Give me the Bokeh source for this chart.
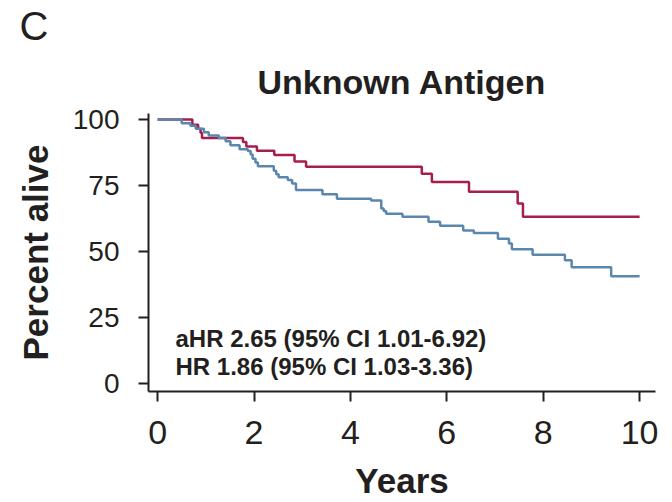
from bokeh.plotting import figure
from bokeh.models import Label, FixedTicker, Title
from bokeh.embed import file_html
from bokeh.resources import INLINE

# Kaplan-Meier curves (years, percent alive)
red_years = [0, 0.72, 0.84, 0.89, 0.92, 1.77, 1.84, 2.06, 2.42, 2.84, 3.08,
             5.48, 5.69, 6.46, 7.47, 7.58, 10.0]
red_alive = [100, 98.0, 96.5, 95.0, 93.0, 91.5, 89.8, 88.2, 86.6, 84.1, 82.1,
             79.5, 76.4, 72.7, 68.2, 63.2, 63.2]

blue_years = [0, 0.50, 0.68, 0.79, 0.96, 1.06, 1.27, 1.41, 1.51, 1.70, 1.87,
              1.93, 1.97, 2.03, 2.08, 2.41, 2.46, 2.51, 2.70, 2.79, 2.87, 3.42,
              3.72, 4.43, 4.64, 4.69, 4.74, 5.08, 5.62, 5.86, 6.34, 6.56, 7.06,
              7.29, 7.35, 7.78, 8.45, 8.59, 9.41, 10.0]
blue_alive = [100, 98.6, 97.7, 96.5, 95.2, 94.0, 93.0, 91.8, 90.3, 88.8, 88.1,
              86.8, 85.2, 83.7, 82.3, 80.6, 79.3, 78.2, 77.1, 75.8, 73.3, 71.7,
              70.0, 69.3, 66.3, 65.4, 64.3, 63.2, 61.3, 59.8, 58.0, 57.0, 54.9,
              53.1, 50.9, 48.8, 46.7, 44.1, 40.7, 40.7]

x_ticks = [0, 2, 4, 6, 8, 10]
y_ticks = [0, 25, 50, 75, 100]

panel_letter = "C"
title_text = "Unknown Antigen"
x_label = "Years"
y_label = "Percent alive"
annot_lines = ["aHR 2.65 (95% CI 1.01-6.92)", "HR 1.86 (95% CI 1.03-3.36)"]

FONT = "Liberation Sans"
INK = "#231f20"
RED = "#a51e4d"
BLUE = "#5b87ae"

p = figure(width=664, height=502, output_backend="svg", toolbar_location=None,
           x_range=(-0.19, 10.33), y_range=(-3.0, 102.3),
           min_border_left=148, min_border_right=9, min_border_top=113,
           min_border_bottom=109)
p.outline_line_color = None
p.xgrid.visible = False
p.ygrid.visible = False
p.background_fill_color = "white"
p.border_fill_color = "white"

# panel letter as the figure title (outermost), chart title just above the frame
p.title = Title(text=panel_letter, align="left", offset=-129,
                text_font=FONT, text_font_style="normal",
                text_font_size="40px", text_color=INK, standoff=2,
                text_line_height=0.9)
p.add_layout(Title(text=title_text, align="center", text_font=FONT,
                   text_font_style="bold", text_font_size="34px",
                   text_color=INK, standoff=25), "above")

p.step(red_years, red_alive, mode="after", line_color=RED, line_width=2.5)
p.step(blue_years, blue_alive, mode="after", line_color=BLUE, line_width=2.5)

for ax in (p.xaxis[0], p.yaxis[0]):
    ax.axis_line_color = INK
    ax.axis_line_width = 2
    ax.major_tick_line_color = INK
    ax.major_tick_line_width = 2
    ax.major_tick_out = 10
    ax.major_tick_in = 0
    ax.minor_tick_line_color = None
    ax.major_label_text_font = FONT
    ax.major_label_text_color = INK
    ax.axis_label_text_font = FONT
    ax.axis_label_text_font_style = "bold"
    ax.axis_label_text_color = INK

p.xaxis.ticker = FixedTicker(ticks=x_ticks)
p.yaxis.ticker = FixedTicker(ticks=y_ticks)
p.xaxis.major_label_text_font_size = "34px"
p.yaxis.major_label_text_font_size = "28px"
p.xaxis.major_label_standoff = 19
p.yaxis.major_label_standoff = 19
p.xaxis.axis_label = x_label
p.yaxis.axis_label = y_label
p.xaxis.axis_label_text_font_size = "35px"
p.yaxis.axis_label_text_font_size = "35px"
p.xaxis.axis_label_standoff = 14
p.yaxis.axis_label_standoff = 15

for i, line in enumerate(annot_lines):
    p.add_layout(Label(x=0.37, y=16.9 - i * 10.6, text=line, text_font=FONT,
                       text_font_style="bold", text_font_size="24px",
                       text_color=INK, text_align="left",
                       text_baseline="alphabetic"))

open("out.html", "w").write(file_html(p, INLINE))
